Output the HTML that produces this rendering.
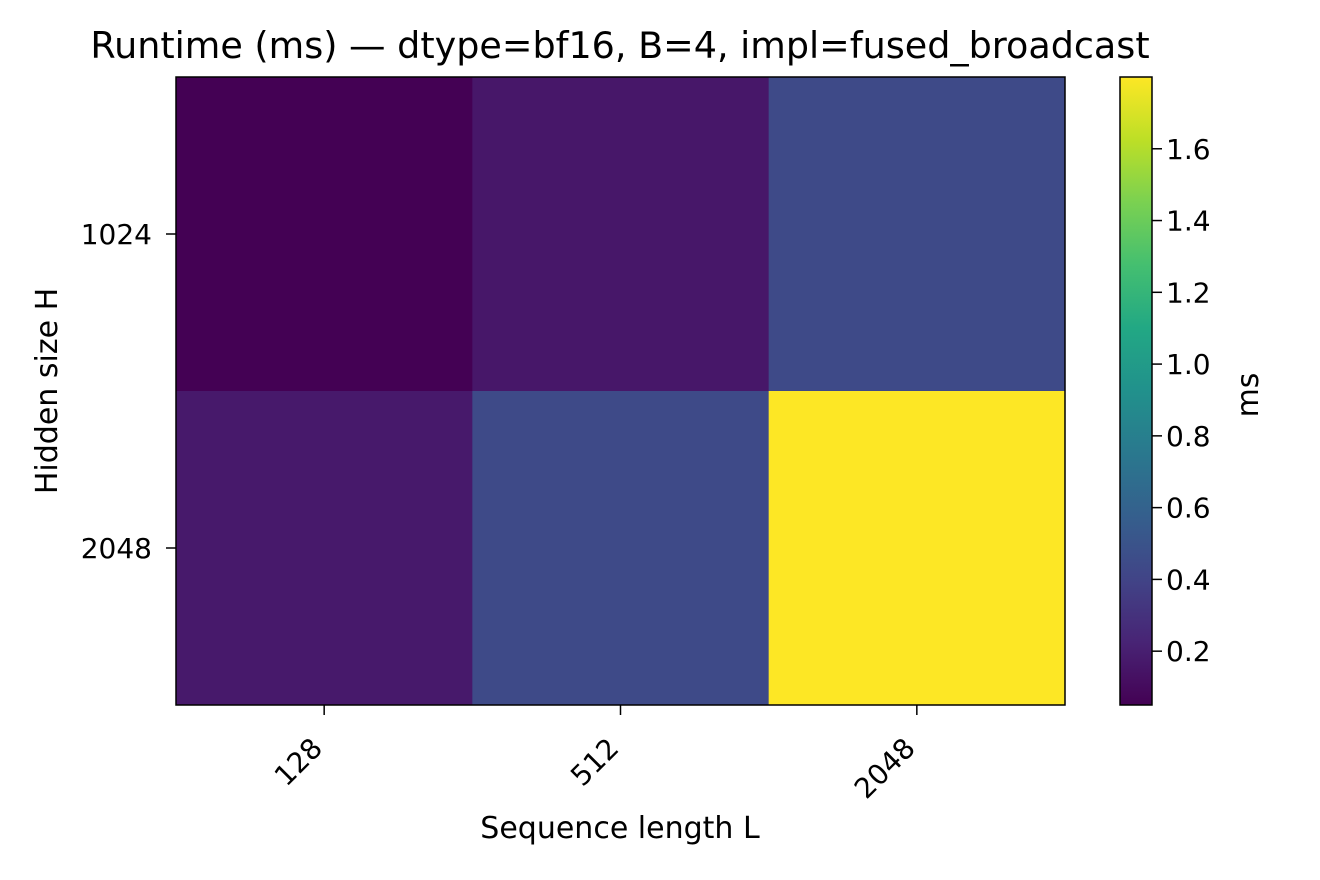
<!DOCTYPE html>
<html><head><meta charset="utf-8"><style>
body{margin:0;background:#fff;}
svg{display:block;font-family:"DejaVu Sans","Liberation Sans",sans-serif;}
</style></head><body>
<svg id="chart" width="1320" height="880" viewBox="0 0 1320 880">
<text x="620" y="58" font-size="36.5" text-anchor="middle">Runtime (ms) — dtype=bf16, B=4, impl=fused_broadcast</text>
<g id="cells"></g>
<rect x="176" y="77" width="889" height="628" fill="none" stroke="#000" stroke-width="1.5"/>
<g id="axes"></g>
<text x="620" y="838" font-size="30" text-anchor="middle">Sequence length L</text>
<text transform="translate(57,391) rotate(-90)" font-size="30" text-anchor="middle">Hidden size H</text>
<defs><linearGradient id="vir" x1="0" y1="1" x2="0" y2="0"></linearGradient></defs>
<rect x="1120" y="77" width="32" height="628" fill="url(#vir)"/>
<rect x="1120" y="77" width="32" height="628" fill="none" stroke="#000" stroke-width="1.5"/>
<g id="cbticks"></g>
<text transform="translate(1258,395) rotate(-90)" font-size="30" text-anchor="middle">ms</text>
</svg>
<script>
const xCats=["128","512","2048"];
const yCats=["1024","2048"];
const row1024=[0.05,0.16,0.44];
const row2048=[0.17,0.44,1.80];
const cbTicks=[0.2,0.4,0.6,0.8,1.0,1.2,1.4,1.6];
const vmin=0.05, vmax=1.80;
const stops=["#440154","#482475","#414487","#355f8d","#2a788e","#21918c","#22a884","#44bf70","#7ad151","#bddf26","#fde725"];
function hex(c){return[1,3,5].map(i=>parseInt(c.substr(i,2),16));}
function viridis(t){t=Math.max(0,Math.min(1,t));const p=t*10,i=Math.min(9,Math.floor(p)),f=p-i;const a=hex(stops[i]),b=hex(stops[i+1]);return"rgb("+a.map((v,k)=>Math.round(v+(b[k]-v)*f)).join(",")+")";}
const L=176,T=77,W=889,H=628;
const cw=W/xCats.length, rh=H/yCats.length;
const xPos=i=>L+cw*i, yPos=j=>T+rh*j;
const cbY=v=>705-(v-vmin)/(vmax-vmin)*628;
const NS="http://www.w3.org/2000/svg";
const rows=[row1024,row2048];
const cells=document.getElementById('cells');
rows.forEach((r,j)=>r.forEach((v,i)=>{
 const e=document.createElementNS(NS,'rect');
 e.setAttribute('x',xPos(i));e.setAttribute('y',yPos(j));
 e.setAttribute('width',cw+0.5);e.setAttribute('height',rh+0.5);
 e.setAttribute('fill',viridis((v-vmin)/(vmax-vmin)));
 
 
 cells.appendChild(e);
}));
const ax=document.getElementById('axes');
xCats.forEach((c,i)=>{
 const x=xPos(i)+cw/2;
 const l=document.createElementNS(NS,'line');
 l.setAttribute('x1',x);l.setAttribute('x2',x);l.setAttribute('y1',705);l.setAttribute('y2',715);l.setAttribute('stroke','#000');l.setAttribute('stroke-width','1.5');
 
 
 ax.appendChild(l);
 const t=document.createElementNS(NS,'text');
 t.setAttribute('transform',`translate(${x-15},${735}) rotate(-45)`);
 t.setAttribute('text-anchor','end');t.setAttribute('font-size','28');t.setAttribute('dy','0.75em');
 t.textContent=c;
 
 
 ax.appendChild(t);
});
yCats.forEach((c,j)=>{
 const y=yPos(j)+rh/2;
 const l=document.createElementNS(NS,'line');
 l.setAttribute('x1',166);l.setAttribute('x2',176);l.setAttribute('y1',y);l.setAttribute('y2',y);l.setAttribute('stroke','#000');l.setAttribute('stroke-width','1.5');
 
 
 ax.appendChild(l);
 const t=document.createElementNS(NS,'text');
 t.setAttribute('x',152);t.setAttribute('y',y+10);t.setAttribute('text-anchor','end');t.setAttribute('font-size','28');
 t.textContent=c;
 
 
 ax.appendChild(t);
});
const g=document.getElementById('vir');
stops.forEach((s,i)=>{const st=document.createElementNS(NS,'stop');st.setAttribute('offset',i/10);st.setAttribute('stop-color',s);g.appendChild(st);});
const cb=document.getElementById('cbticks');
cbTicks.forEach(v=>{
 const y=cbY(v);
 const l=document.createElementNS(NS,'line');
 l.setAttribute('x1',1152);l.setAttribute('x2',1162);l.setAttribute('y1',y);l.setAttribute('y2',y);l.setAttribute('stroke','#000');l.setAttribute('stroke-width','1.5');
 
 
 cb.appendChild(l);
 const t=document.createElementNS(NS,'text');
 t.setAttribute('x',1166);t.setAttribute('y',y+10);t.setAttribute('font-size','28');
 t.textContent=v.toFixed(1);
 
 
 cb.appendChild(t);
});
</script>
</body></html>
